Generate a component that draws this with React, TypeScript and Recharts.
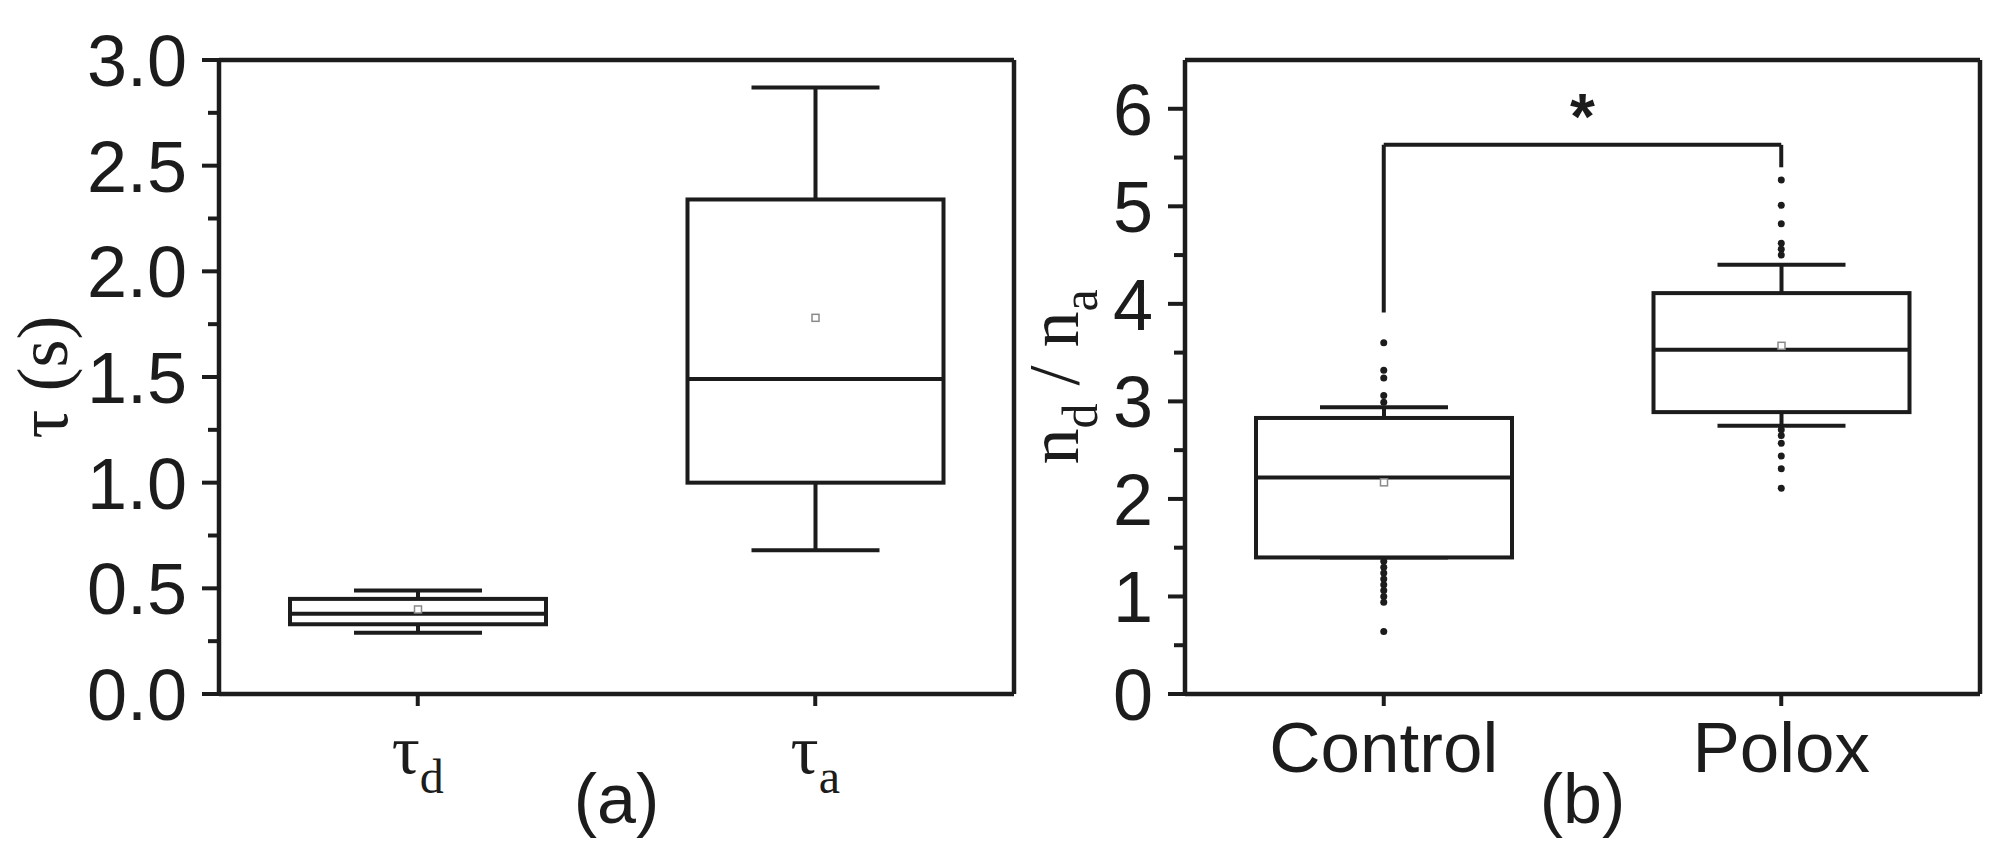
import React from 'react';
import {Bar, ComposedChart, ReferenceLine, Scatter, XAxis, YAxis} from 'recharts';

const INK = '#1c1c1c';
const SANS = '"Liberation Sans", Arial, Helvetica, sans-serif';
const SERIF = '"Liberation Serif", "Times New Roman", serif';

// panel (a): tau_d / tau_a
const tauGroups = ['d', 'a'];
const tauLow = [0.29, 0.68];
const tauQ1 = [0.33, 1.0];
const tauMedian = [0.38, 1.49];
const tauQ3 = [0.45, 2.34];
const tauHigh = [0.49, 2.87];
const tauMean = [0.4, 1.78];
const tauTicks = [0, 0.5, 1, 1.5, 2, 2.5, 3];
const tauMinorTicks = [0.25, 0.75, 1.25, 1.75, 2.25, 2.75];
const tauMax = 3;

// panel (b): nd / na
const ratioGroups = ['Control', 'Polox'];
const ratioLow = [1.4, 2.75];
const ratioQ1 = [1.4, 2.89];
const ratioMedian = [2.22, 3.53];
const ratioQ3 = [2.83, 4.11];
const ratioHigh = [2.94, 4.4];
const ratioMean = [2.17, 3.57];
const controlOutliers = [3.6, 3.32, 3.24, 3.06, 2.99, 1.36, 1.3, 1.24, 1.18, 1.12, 1.06, 1.0, 0.94, 0.64];
const poloxOutliers = [5.27, 5.01, 4.82, 4.62, 4.56, 4.5, 2.71, 2.65, 2.57, 2.44, 2.31, 2.11];
const ratioTicks = [0, 1, 2, 3, 4, 5, 6];
const ratioMinorTicks = [0.5, 1.5, 2.5, 3.5, 4.5, 5.5];
const ratioMax = 6.5;
const bracketTop = 5.63;
const bracketFeet = [3.91, 5.4];

function buildRows(names: string[], lo: number[], q1: number[], med: number[], q3: number[], hi: number[], mean: number[]) {
  return names.map((name, i) => ({name, lo: lo[i], q1: q1[i], med: med[i], q3: q3[i], hi: hi[i], mean: mean[i]}));
}

const tauRows = buildRows(tauGroups, tauLow, tauQ1, tauMedian, tauQ3, tauHigh, tauMean);
const ratioRows = buildRows(ratioGroups, ratioLow, ratioQ1, ratioMedian, ratioQ3, ratioHigh, ratioMean);
const outlierRows = [
  ...controlOutliers.map((v) => ({name: 'Control', v})),
  ...poloxOutliers.map((v) => ({name: 'Polox', v})),
];

// the bar spans low..high whisker; the rest is placed linearly inside it
function BoxShape(props: any) {
  const {x, y, width, height, payload} = props;
  if (!payload) return null;
  const top = Math.min(y, y + height);
  const bottom = Math.max(y, y + height);
  const {lo, hi, q1, q3, med, mean} = payload;
  const py = (v: number) => bottom - ((bottom - top) * (v - lo)) / (hi - lo);
  const cx = x + width / 2;
  const cap = width / 4;
  return (
    <g stroke={INK} strokeWidth={4} fill="none">
      <line x1={cx} x2={cx} y1={py(hi)} y2={py(lo)} />
      <line x1={cx - cap} x2={cx + cap} y1={py(hi)} y2={py(hi)} />
      <line x1={cx - cap} x2={cx + cap} y1={py(lo)} y2={py(lo)} />
      <rect x={x} y={py(q3)} width={width} height={py(q1) - py(q3)} fill="#fff" />
      <line x1={x} x2={x + width} y1={py(med)} y2={py(med)} />
      <rect x={cx - 3.5} y={py(mean) - 3.5} width={7} height={7} stroke="#8a8a8a" strokeWidth={1.5} fill="#fff" />
    </g>
  );
}

const Dot = (p: any) => <circle cx={p.cx} cy={p.cy} r={3.5} fill={INK} />;

function makeYTick(majors: number[], fmt: (v: number) => string) {
  return (props: any) => {
    const {x, y, payload} = props;
    const major = majors.includes(payload.value);
    return (
      <g>
        <line x1={x - (major ? 17 : 11)} x2={x} y1={y} y2={y} stroke={INK} strokeWidth={4} />
        {major && (
          <text x={x - 32} y={y} dy="0.36em" textAnchor="end" fontSize={72} fontFamily={SANS} fill={INK}>
            {fmt(payload.value)}
          </text>
        )}
      </g>
    );
  };
}

const TauTick = (props: any) => {
  const {x, y, payload} = props;
  return (
    <g>
      <line x1={x} x2={x} y1={y} y2={y + 12} stroke={INK} strokeWidth={4} />
      <text x={x} y={y + 79} textAnchor="middle" fontFamily={SERIF} fill={INK}>
        <tspan fontSize={70}>τ</tspan>
        <tspan fontSize={48} dy={20}>{payload.value}</tspan>
      </text>
    </g>
  );
};

const GroupTick = (props: any) => {
  const {x, y, payload} = props;
  return (
    <g>
      <line x1={x} x2={x} y1={y} y2={y + 12} stroke={INK} strokeWidth={4} />
      <text x={x} y={y + 78} textAnchor="middle" fontSize={71} fontFamily={SANS} fill={INK}>
        {payload.value}
      </text>
    </g>
  );
};

const PanelTag = ({viewBox, text}: any) => {
  if (!viewBox) return null;
  return (
    <text x={viewBox.x + viewBox.width / 2} y={viewBox.y + 129} textAnchor="middle" fontSize={70} fontFamily={SANS} fill={INK}>
      {text}
    </text>
  );
};

// rotated axis titles; baseline sits `base` px right of the axis box start
const TauTitle = ({viewBox}: any) => {
  if (!viewBox) return null;
  const cx = viewBox.x + 67;
  const cy = viewBox.y + viewBox.height / 2;
  return (
    <text x={cx} y={cy} transform={`rotate(-90, ${cx}, ${cy})`} textAnchor="middle" fontSize={72} fontFamily={SERIF} fill={INK}>
      τ (s)
    </text>
  );
};

const RatioTitle = ({viewBox}: any) => {
  if (!viewBox) return null;
  const cx = viewBox.x + 98;
  const cy = viewBox.y + viewBox.height / 2;
  return (
    <text x={cx} y={cy} transform={`rotate(-90, ${cx}, ${cy})`} textAnchor="middle" fontSize={72} fontFamily={SERIF} fill={INK}>
      <tspan>n</tspan>
      <tspan fontSize={50} dy={19}>d</tspan>
      <tspan dy={-19}> / n</tspan>
      <tspan fontSize={50} dy={19}>a</tspan>
    </text>
  );
};

const Star = ({viewBox}: any) => {
  if (!viewBox) return null;
  return (
    <text x={viewBox.x + viewBox.width / 2} y={viewBox.y - 6} textAnchor="middle" fontSize={64} fontWeight="bold" fontFamily={SANS} fill={INK}>
      *
    </text>
  );
};

const axisLine = {stroke: INK, strokeWidth: 4.5};

export default function App() {
  return (
    <div style={{position: 'absolute', left: 0, top: 0, width: 2006, height: 859, background: '#fff'}}>
      <div style={{position: 'absolute', left: 0, top: 0}}>
        <ComposedChart width={1030} height={859} data={tauRows} margin={{top: 60, right: 16, bottom: 65, left: 0}}>
          <XAxis dataKey="name" height={100} axisLine={axisLine} tickLine={false} tickSize={0} tickMargin={0} interval={0} tick={<TauTick />} label={<PanelTag text="(a)" />} />
          <YAxis width={219} domain={[0, tauMax]} type="number" ticks={[...tauTicks, ...tauMinorTicks]} interval={0} axisLine={axisLine} tickLine={false} tickSize={0} tickMargin={0} tick={makeYTick(tauTicks, (v) => v.toFixed(1))} label={<TauTitle />} />
          <ReferenceLine y={tauMax} stroke={INK} strokeWidth={4.5} ifOverflow="visible" />
          <ReferenceLine x={tauGroups[tauGroups.length - 1]} position="end" stroke={INK} strokeWidth={4.5} ifOverflow="visible" />
          <Bar dataKey={(d: any) => [d.lo, d.hi]} barSize={256} shape={<BoxShape />} isAnimationActive={false} />
        </ComposedChart>
      </div>
      <div style={{position: 'absolute', left: 980, top: 0}}>
        <ComposedChart width={1026} height={859} data={ratioRows} margin={{top: 60, right: 26, bottom: 65, left: 0}}>
          <XAxis dataKey="name" allowDuplicatedCategory={false} height={100} axisLine={axisLine} tickLine={false} tickSize={0} tickMargin={0} interval={0} tick={<GroupTick />} label={<PanelTag text="(b)" />} />
          <YAxis width={205} domain={[0, ratioMax]} type="number" ticks={[...ratioTicks, ...ratioMinorTicks]} interval={0} axisLine={axisLine} tickLine={false} tickSize={0} tickMargin={0} tick={makeYTick(ratioTicks, (v) => String(v))} label={<RatioTitle />} />
          <ReferenceLine y={ratioMax} stroke={INK} strokeWidth={4.5} ifOverflow="visible" />
          <ReferenceLine x={ratioGroups[ratioGroups.length - 1]} position="end" stroke={INK} strokeWidth={4.5} ifOverflow="visible" />
          <Bar dataKey={(d: any) => [d.lo, d.hi]} barSize={256} shape={<BoxShape />} isAnimationActive={false} />
          <Scatter data={outlierRows} dataKey="v" shape={<Dot />} isAnimationActive={false} />
          <ReferenceLine segment={[{x: 'Control', y: bracketFeet[0]}, {x: 'Control', y: bracketTop}]} stroke={INK} strokeWidth={4} />
          <ReferenceLine segment={[{x: 'Control', y: bracketTop}, {x: 'Polox', y: bracketTop}]} stroke={INK} strokeWidth={4} label={<Star />} />
          <ReferenceLine segment={[{x: 'Polox', y: bracketTop}, {x: 'Polox', y: bracketFeet[1]}]} stroke={INK} strokeWidth={4} />
        </ComposedChart>
      </div>
    </div>
  );
}
